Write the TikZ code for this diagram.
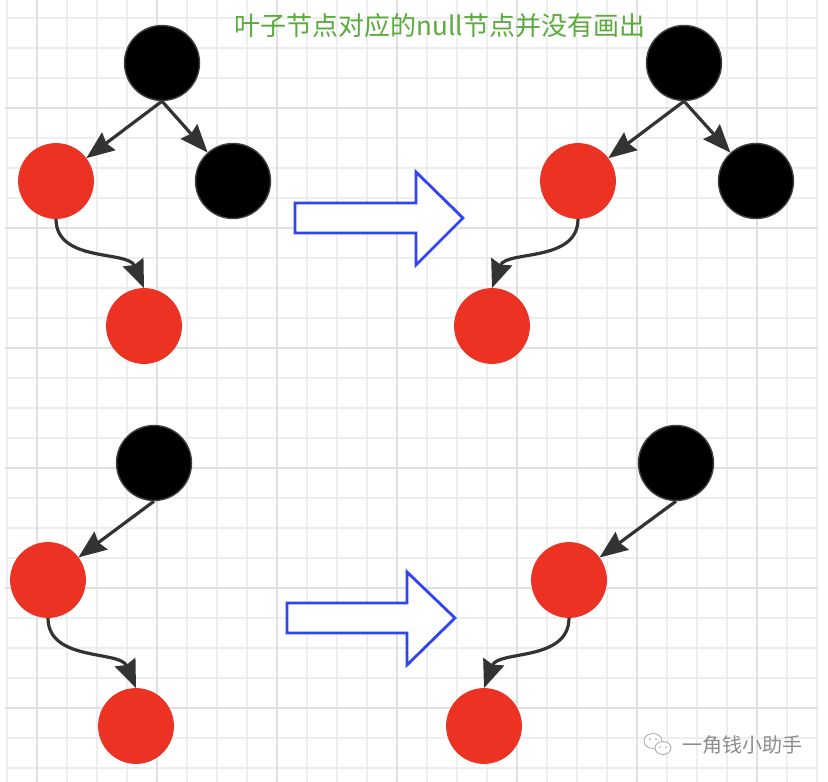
\documentclass[tikz,border=0pt]{standalone}
\usepackage{fontspec}
\newfontfamily\cjk{Noto Sans CJK SC}
\usetikzlibrary{arrows.meta}
\definecolor{redn}{HTML}{EC3223}
\definecolor{edgec}{HTML}{333333}
\definecolor{bluea}{HTML}{3043F5}
\definecolor{greent}{HTML}{5AAB3C}
\definecolor{gridminor}{HTML}{EEEEEE}
\definecolor{gridmajor}{HTML}{E0E0E0}
\begin{document}
\begin{tikzpicture}[x=1pt,y=-1pt,
  rednode/.style={circle,fill=redn,draw=redn,line width=0.8pt,minimum size=75pt,inner sep=0pt},
  blknode/.style={circle,fill=black,draw=black!75,line width=1.4pt,minimum size=75pt,inner sep=0pt},
  treeedge/.style={draw=edgec,line width=3.2pt,-{Stealth[length=28pt,width=22pt,inset=3pt]}},
  blockarrow/.style={draw=bluea,line width=2.8pt,fill=white,line join=miter},
  minorline/.style={draw=gridminor,line width=1.6pt},
  majorline/.style={draw=gridmajor,line width=1.9pt}]
\useasboundingbox (0,0) rectangle (828,782);
\fill[white] (0,0) rectangle (828,782);
% grid
\foreach \xx in {7,37,...,817} {\draw[minorline] (\xx,0) -- (\xx,782);}
\foreach \yy in {18,48,...,768} {\draw[minorline] (5,\yy) -- (818,\yy);}
\foreach \xx in {37,157,...,757} {\draw[majorline] (\xx,0) -- (\xx,782);}
\foreach \yy in {108,228,...,708} {\draw[majorline] (5,\yy) -- (818,\yy);}

% title
\node[text=greent,font=\cjk\fontsize{26}{30}\selectfont,inner sep=0pt] (title) at (440,26) {叶子节点对应的null节点并没有画出};

% top-left tree
\node[blknode] (r1) at (162,63) {};
\node[rednode] (a1) at (56,181) {};
\node[blknode] (b1) at (233,181) {};
\node[rednode] (c1) at (144,326) {};
\draw[treeedge] (r1.south) -- (a1);
\draw[treeedge] (r1.south) -- (b1);
\draw[treeedge] (a1.south) .. controls +(0,44) and +(-16,-38) .. (c1.north);

% top-right tree
\node[blknode] (r2) at (684,63) {};
\node[rednode] (a2) at (578,181) {};
\node[blknode] (b2) at (756,181) {};
\node[rednode] (c2) at (492,326) {};
\draw[treeedge] (r2.south) -- (a2);
\draw[treeedge] (r2.south) -- (b2);
\draw[treeedge] (a2.south) .. controls +(0,44) and +(14,-38) .. (c2.north);

% bottom-left tree
\node[blknode] (r3) at (154,463) {};
\node[rednode] (a3) at (48,580) {};
\node[rednode] (c3) at (136,726) {};
\draw[treeedge] (r3.south) -- (a3);
\draw[treeedge] (a3.south) .. controls +(0,44) and +(-16,-38) .. (c3.north);

% bottom-right tree
\node[blknode] (r4) at (676,463) {};
\node[rednode] (a4) at (569,580) {};
\node[rednode] (c4) at (484,726) {};
\draw[treeedge] (r4.south) -- (a4);
\draw[treeedge] (a4.south) .. controls +(0,44) and +(14,-38) .. (c4.north);

% block arrows
\draw[blockarrow] (295,203) -- (416,203) -- (416,172) -- (463,218) -- (416,265) -- (416,233) -- (295,233) -- cycle;
\draw[blockarrow] (287,603) -- (407,603) -- (407,572) -- (455,618) -- (407,665) -- (407,633) -- (287,633) -- cycle;

% watermark
\draw[black!35,line width=0.8pt,fill=white] (653,741) ellipse (9 and 7.5);
\draw[black!35,line width=0.8pt,fill=white] (663,748) ellipse (8 and 6.5);
\fill[black!35] (650,739) circle (1);
\fill[black!35] (656,739) circle (1);
\fill[black!35] (660,747) circle (0.9);
\fill[black!35] (666,747) circle (0.9);
\node[text=black!45,font=\cjk\fontsize{20}{22}\selectfont,inner sep=0pt] (wm) at (742,745) {一角钱小助手};
\end{tikzpicture}
\end{document}
